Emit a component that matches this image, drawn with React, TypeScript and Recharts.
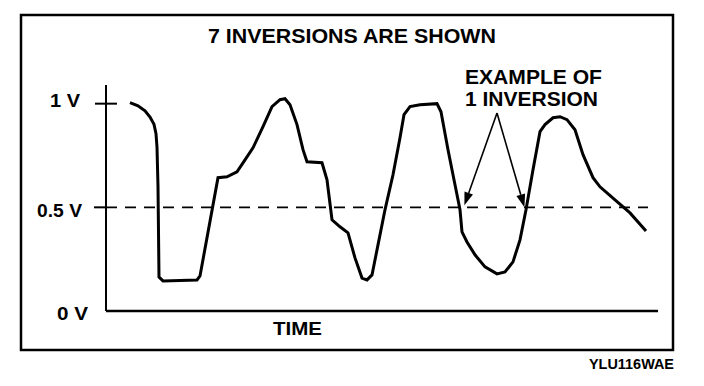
import React from 'react';
import { LineChart, Line, XAxis, YAxis, ReferenceLine, Customized } from 'recharts';

// time (arbitrary units) and sensor voltage
const times = [6, 8, 9.75, 11, 12, 12.5, 12.75, 13, 13.25, 14.25, 22.75, 23.5, 28, 30.25, 32.75, 34.75, 36.75, 39.25, 41.5, 43.5, 44.75, 46, 47.75, 49.25, 50.25, 54, 55.25, 56.5, 58.5, 60.5, 62.25, 64, 65.25, 66.5, 68, 69.75, 71.75, 73.5, 74.5, 76, 78.5, 82.75, 83.75, 85.5, 87.25, 88.5, 89, 90.25, 92.25, 94.75, 97.75, 99.75, 101.75, 103.5, 105, 106.75, 108.5, 109.75, 111.75, 113.5, 115.25, 117.25, 119.25, 121.75, 123.5, 127.25, 131, 135];
const volts = [1.005, 0.99, 0.965, 0.935, 0.9, 0.855, 0.79, 0.6, 0.164, 0.145, 0.15, 0.169, 0.643, 0.647, 0.671, 0.729, 0.787, 0.889, 0.986, 1.019, 1.024, 0.995, 0.899, 0.778, 0.72, 0.715, 0.633, 0.44, 0.406, 0.377, 0.256, 0.159, 0.15, 0.174, 0.319, 0.488, 0.657, 0.836, 0.947, 0.986, 0.995, 1.0, 0.961, 0.778, 0.609, 0.488, 0.382, 0.333, 0.271, 0.213, 0.179, 0.188, 0.237, 0.343, 0.488, 0.681, 0.865, 0.899, 0.932, 0.937, 0.923, 0.874, 0.754, 0.643, 0.599, 0.536, 0.473, 0.386];

const yTicks = [0, 0.5, 1];
const yTickLabels = ['0 V', '0.5 V', '1 V'];
const threshold = 0.5;
const thresholdEnd = 135.5;
const xDomain = [0, 138];
const yDomain = [0, 1.09];

const arrowApex = { t: 97.75, v: 0.955 };
const arrowTips = [
  { t: 89.6, v: 0.51 },
  { t: 104.6, v: 0.5 },
];

const title = '7 INVERSIONS ARE SHOWN';
const noteLines = ['EXAMPLE OF', '1 INVERSION'];
const xLabel = 'TIME';
const figId = 'YLU116WAE';

const data = times.map((t, i) => ({ t, v: volts[i] }));

const FONT = '"Liberation Sans", Arial, sans-serif';

const SText = ({ x, y, w, size, children }: any) => (
  <text
    x={x}
    y={y}
    textLength={w}
    lengthAdjust="spacingAndGlyphs"
    fontSize={size}
    fontWeight="bold"
    fontFamily={FONT}
    fill="#000"
  >
    {children}
  </text>
);

const tickStyle: Record<string, { dx: number; dy: number; w: number }> = {
  '1': { dx: -56, dy: 3, w: 30 },
  '0.5': { dx: -69, dy: 10, w: 45 },
  '0': { dx: -49, dy: 9, w: 31 },
};

const YTick = (props: any) => {
  const { x, y, payload } = props;
  const v = payload.value;
  const idx = yTicks.indexOf(v);
  const st = tickStyle[String(v)];
  return (
    <g>
      {v === 1 && <line x1={x - 11} x2={x + 11} y1={y} y2={y} stroke="#000" strokeWidth={2} />}
      {v === 0.5 && <line x1={x - 12} x2={x} y1={y} y2={y} stroke="#000" strokeWidth={2} />}
      <SText x={x + st.dx} y={y + st.dy} w={st.w} size={19}>
        {yTickLabels[idx]}
      </SText>
    </g>
  );
};

const Arrow = (props: any) => {
  const { x1, y1, x2, y2 } = props;
  const ang = Math.atan2(y2 - y1, x2 - x1);
  const len = 13;
  const half = 4.5;
  const bx = x2 - len * Math.cos(ang);
  const by = y2 - len * Math.sin(ang);
  const px = -Math.sin(ang) * half;
  const py = Math.cos(ang) * half;
  return (
    <g>
      <line x1={x1} y1={y1} x2={bx} y2={by} stroke="#000" strokeWidth={1.6} />
      <polygon points={`${x2},${y2} ${bx + px},${by + py} ${bx - px},${by - py}`} fill="#000" />
    </g>
  );
};

const Decor = () => (
  <g>
    <rect x={21} y={15} width={652} height={335} fill="none" stroke="#000" strokeWidth={2.5} />
    <SText x={208} y={43} w={288} size={20}>{title}</SText>
    <SText x={465} y={84} w={137} size={20}>{noteLines[0]}</SText>
    <SText x={465} y={106} w={133} size={20}>{noteLines[1]}</SText>
    <SText x={273} y={335} w={49} size={19}>{xLabel}</SText>
    <SText x={589} y={369} w={85} size={14}>{figId}</SText>
  </g>
);

export default function App() {
  return (
    <div style={{ position: 'absolute', left: 0, top: 0, background: '#fff' }}>
      <LineChart
        width={704}
        height={386}
        data={data}
        margin={{ top: 85, right: 46, bottom: 45, left: 0 }}
      >
        <Customized component={<Decor />} />
        <XAxis
          type="number"
          dataKey="t"
          domain={xDomain}
          allowDataOverflow
          tick={false}
          tickLine={false}
          height={30}
          axisLine={{ stroke: '#000', strokeWidth: 2.5 }}
        />
        <YAxis
          type="number"
          domain={yDomain}
          allowDataOverflow
          ticks={yTicks}
          interval={0}
          width={106}
          tickSize={0}
          tickMargin={0}
          tickLine={false}
          tick={<YTick />}
          axisLine={{ stroke: '#000', strokeWidth: 2 }}
        />
        <ReferenceLine
          segment={[{ x: 0, y: threshold }, { x: thresholdEnd, y: threshold }]}
          stroke="#000"
          strokeWidth={1.8}
          strokeDasharray="11 8"
        />
        <Line
          type="linear"
          dataKey="v"
          stroke="#000"
          strokeWidth={3}
          dot={false}
          isAnimationActive={false}
        />
        {arrowTips.map((tip, i) => (
          <ReferenceLine
            key={i}
            segment={[{ x: arrowApex.t, y: arrowApex.v }, { x: tip.t, y: tip.v }]}
            shape={<Arrow />}
          />
        ))}
      </LineChart>
    </div>
  );
}
